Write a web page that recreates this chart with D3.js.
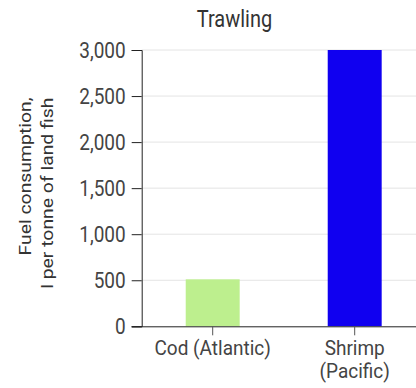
<!DOCTYPE html>
<html>
<head>
<meta charset="utf-8">
<script src="https://cdn.jsdelivr.net/npm/d3@7"></script>
<style>
  html, body { margin: 0; padding: 0; background: #fff; }
  svg { display: block; font-family: Roboto, "Noto Sans", sans-serif; }
</style>
</head>
<body>
<svg id="chart" width="416" height="388"></svg>
<script>
// Fuel use of trawl fisheries
const categories = [["Cod (Atlantic)"], ["Shrimp", "(Pacific)"]];
const values = [510, 3000];
const barColors = ["#bdef8e", "#1000f0"];
const yTicks = [0, 500, 1000, 1500, 2000, 2500, 3000];
const title = "Trawling";
const yLabel = ["Fuel consumption,", "l per tonne of land fish"];

(function draw() {
  const svg = d3.select("#chart");
  const W = 416;
  const mLeft = 141.7, mTop = 50, mBottom = 326.3;
  const sy = 1.12; // text is drawn slightly tall

  const x = d3.scaleBand()
    .domain(categories.map((d, i) => i))
    .range([mLeft, mLeft + 284])
    .paddingInner(0.62)
    .paddingOuter(0.31);

  const y = d3.scaleLinear().domain([0, 3000]).range([mBottom, mTop]);

  // gridlines
  svg.append("g")
    .selectAll("line")
    .data(yTicks.filter(d => d > 0))
    .join("line")
    .attr("x1", mLeft).attr("x2", W)
    .attr("y1", d => y(d)).attr("y2", d => y(d))
    .attr("stroke", "#e4e4e4").attr("stroke-width", 1);

  // bars
  svg.append("g")
    .selectAll("rect")
    .data(values)
    .join("rect")
    .attr("x", (d, i) => x(i))
    .attr("width", x.bandwidth())
    .attr("y", d => y(d))
    .attr("height", d => y(0) - y(d))
    .attr("fill", (d, i) => barColors[i]);

  // y axis
  const yAxis = svg.append("g")
    .attr("transform", `translate(${mLeft},0)`)
    .call(d3.axisLeft(y).tickValues(yTicks).tickSize(10).tickPadding(6)
      .tickFormat(d3.format(",")));
  yAxis.select(".domain").attr("stroke", "#222");
  yAxis.selectAll(".tick line").attr("stroke", "#222");
  yAxis.selectAll("text")
    .attr("fill", "#444")
    .attr("dy", "0.36em")
    .attr("transform", `scale(1,${sy})`)
    .style("font-size", "19px")
    .style("font-family", "Roboto");

  // x axis
  const xAxis = svg.append("g")
    .attr("transform", `translate(0,${mBottom})`)
    .call(d3.axisBottom(x).tickSize(9).tickFormat(""));
  xAxis.select(".domain").attr("d", `M${mLeft - 10},0.5H${W}`).attr("stroke", "#222");
  xAxis.selectAll(".tick line").attr("stroke", "#555");

  const sx = 1.08;
  xAxis.selectAll(".tick").each(function(d) {
    const g = d3.select(this);
    categories[d].forEach((line, k) => {
      g.append("text")
        .attr("fill", "#444")
        .attr("text-anchor", "middle")
        .attr("transform", `translate(0,${28.3 + k * 23}) scale(1,${sx})`)
        .style("font-size", "19px")
        .style("font-family", "Roboto")
        .text(line);
    });
  });

  // title
  svg.append("text")
    .attr("transform", `translate(234.5,27) scale(1,${sy + 0.06})`)
    .attr("text-anchor", "middle")
    .attr("fill", "#333")
    .style("font-size", "20px")
    .style("font-family", "Roboto")
    .text(title);

  // y label, both lines ending at the same height
  const yl = svg.append("text")
    .attr("transform", `translate(0,97.5) scale(1,${sy}) rotate(-90)`)
    .attr("text-anchor", "end")
    .attr("fill", "#333")
    .style("font-size", "17.3px")
    .style("font-family", "Roboto");
  yLabel.forEach((line, k) => {
    yl.append("tspan").attr("x", 0).attr("y", 31.5 + k * 22).text(line);
  });
})();
</script>
</body>
</html>
